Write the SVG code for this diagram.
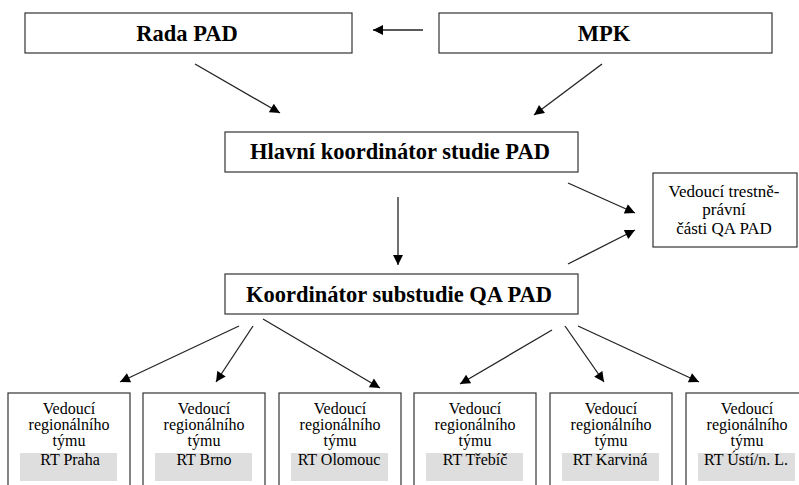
<svg xmlns="http://www.w3.org/2000/svg" width="799" height="485" viewBox="0 0 799 485">
  <defs>
    <marker id="ah" viewBox="0 0 10 10" refX="10" refY="5" markerWidth="11" markerHeight="10" markerUnits="userSpaceOnUse" orient="auto">
      <path d="M0,0 L10,5 L0,10 z" fill="#000"/>
    </marker>
    <style>
      .box { fill: #fff; stroke: #333; stroke-width: 1.2; }
      .title { font-family: "Liberation Serif", "Times New Roman", serif; font-weight: bold; font-size: 22.5px; fill: #000; text-anchor: middle; }
      .side { font-family: "Liberation Serif", "Times New Roman", serif; font-size: 17px; fill: #000; text-anchor: middle; }
      .small { font-family: "Liberation Serif", "Times New Roman", serif; font-size: 16px; fill: #000; text-anchor: middle; }
      .tag { fill: #dedede; }
      .conn line { stroke: #222; stroke-width: 1.3; marker-end: url(#ah); }
    </style>
  </defs>
  <rect width="799" height="485" fill="#fff"/>

  <g id="rada-pad">
    <rect class="box" x="25" y="13" width="327" height="40"/>
    <text class="title" x="187" y="41">Rada PAD</text>
  </g>
  <g id="mpk">
    <rect class="box" x="439" y="13" width="333" height="40"/>
    <text class="title" x="604" y="41">MPK</text>
  </g>
  <g id="hlavni-koordinator">
    <rect class="box" x="225" y="132" width="353" height="40"/>
    <text class="title" x="400" y="159">Hlavní koordinátor studie PAD</text>
  </g>
  <g id="koordinator-substudie">
    <rect class="box" x="225" y="274" width="353" height="40"/>
    <text class="title" x="399" y="302">Koordinátor substudie QA PAD</text>
  </g>
  <g id="vedouci-trestne">
    <rect class="box" x="653" y="173" width="144" height="74"/>
    <text class="side" x="724" y="197">Vedoucí trestně-</text>
    <text class="side" x="724" y="215">právní</text>
    <text class="side" x="724" y="234">části QA PAD</text>
  </g>

  <g id="rt-praha">
    <rect class="box" x="8" y="393" width="122" height="100"/>
    <text class="small" x="69" y="414">Vedoucí</text>
    <text class="small" x="69" y="430">regionálního</text>
    <text class="small" x="69" y="446">týmu</text>
    <rect class="tag" x="20" y="453" width="97" height="28"/>
    <text class="small" x="70" y="465">RT Praha</text>
  </g>
  <g id="rt-brno">
    <rect class="box" x="143" y="393" width="122" height="100"/>
    <text class="small" x="204" y="414">Vedoucí</text>
    <text class="small" x="204" y="430">regionálního</text>
    <text class="small" x="204" y="446">týmu</text>
    <rect class="tag" x="155" y="453" width="97" height="28"/>
    <text class="small" x="204" y="465">RT Brno</text>
  </g>
  <g id="rt-olomouc">
    <rect class="box" x="279" y="393" width="122" height="100"/>
    <text class="small" x="340" y="414">Vedoucí</text>
    <text class="small" x="340" y="430">regionálního</text>
    <text class="small" x="340" y="446">týmu</text>
    <rect class="tag" x="291" y="453" width="97" height="28"/>
    <text class="small" x="339" y="465">RT Olomouc</text>
  </g>
  <g id="rt-trebic">
    <rect class="box" x="414" y="393" width="122" height="100"/>
    <text class="small" x="475" y="414">Vedoucí</text>
    <text class="small" x="475" y="430">regionálního</text>
    <text class="small" x="475" y="446">týmu</text>
    <rect class="tag" x="426" y="453" width="97" height="28"/>
    <text class="small" x="475" y="465">RT Třebíč</text>
  </g>
  <g id="rt-karvina">
    <rect class="box" x="550" y="393" width="122" height="100"/>
    <text class="small" x="611" y="414">Vedoucí</text>
    <text class="small" x="611" y="430">regionálního</text>
    <text class="small" x="611" y="446">týmu</text>
    <rect class="tag" x="562" y="453" width="97" height="28"/>
    <text class="small" x="610" y="465">RT Karviná</text>
  </g>
  <g id="rt-usti">
    <rect class="box" x="686" y="393" width="122" height="100"/>
    <text class="small" x="747" y="414">Vedoucí</text>
    <text class="small" x="747" y="430">regionálního</text>
    <text class="small" x="747" y="446">týmu</text>
    <rect class="tag" x="698" y="453" width="97" height="28"/>
    <text class="small" x="746" y="465">RT Ústí/n. L.</text>
  </g>

  <g id="connectors" class="conn">
    <line x1="423" y1="30" x2="373" y2="30"/>
    <line x1="195" y1="64" x2="280" y2="113"/>
    <line x1="602" y1="64" x2="534" y2="115"/>
    <line x1="398" y1="197" x2="398" y2="265"/>
    <line x1="568" y1="183" x2="635" y2="213"/>
    <line x1="568" y1="264" x2="635" y2="230"/>
    <line x1="239" y1="326" x2="120" y2="382"/>
    <line x1="253" y1="326" x2="216" y2="382"/>
    <line x1="263" y1="319" x2="380" y2="388"/>
    <line x1="552" y1="330" x2="460" y2="384"/>
    <line x1="565" y1="326" x2="604" y2="382"/>
    <line x1="578" y1="326" x2="699" y2="382"/>
  </g>
</svg>
